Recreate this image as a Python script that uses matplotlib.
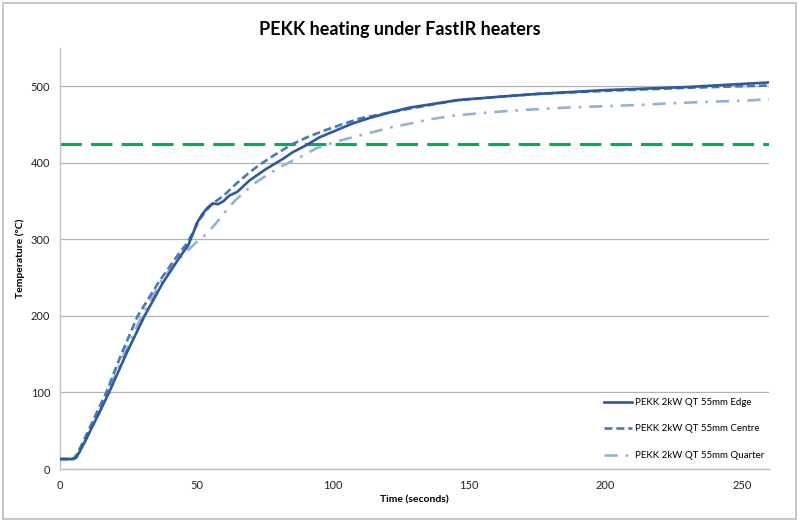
import matplotlib
matplotlib.use("Agg")
import matplotlib.pyplot as plt
from matplotlib.patches import Rectangle

plt.rcParams['font.family'] = ['Lato', 'DejaVu Sans']

# Edge (solid)
edge_t = [0, 5, 6, 8, 10, 15, 18, 24.5, 31, 37.5, 44.5, 47, 48.8, 50, 52, 54, 56, 58, 60, 62, 65,
          69.5, 75.6, 81.7, 85.4, 90.3, 95, 101, 107, 113, 120, 128, 137, 146, 160, 175, 190, 200, 215,
          230, 240, 250, 260]
edge_T = [13, 13, 15, 28, 42, 78, 100, 152, 200, 242, 280, 292, 308, 320, 332, 341, 347, 346,
          350, 357, 362, 377, 392, 405, 414, 423, 433, 442, 451, 458, 465, 472, 477, 482, 486, 490, 493,
          495, 497, 499, 501, 503, 505]

# Centre (dashed)
centre_t = [0, 4, 5, 6, 8, 10, 13, 17, 22.5, 28.5, 36, 43.3, 46.4, 49, 51, 53, 56, 58, 60, 64.7,
            69, 73, 79, 85, 91, 97.6, 104, 110, 120, 130, 146, 160, 175, 200, 230, 250, 260]
centre_T = [13, 13, 14, 18, 32, 47, 70, 100, 150, 200, 243, 280, 294, 310, 325, 335, 347, 352,
            357, 373, 386, 397, 411, 424, 434, 443, 451, 458, 465, 472, 482, 486, 490, 494, 498, 500, 501]

# Quarter (dash-dot)
quarter_t = [0, 5, 6, 8, 10, 14, 17.5, 23.5, 30, 37, 42, 46.4, 50.5, 52.5, 57, 61, 64, 68.3, 72,
             76.9, 81, 85.4, 90, 94, 99, 103.7, 109, 114.7, 121, 128, 136, 145, 155, 165, 175, 185, 200,
             215, 225, 240, 250, 260]
quarter_T = [13, 13, 15, 27, 42, 70, 100, 150, 200, 245, 268, 284, 298, 303, 320, 338, 350, 364,
             375, 386, 395, 403, 411, 419, 425, 430, 435, 440, 446, 451, 457, 462, 465, 468, 470, 472,
             474, 476, 478, 480, 481, 483]

threshold = 425
labels = ["PEKK 2kW QT 55mm Edge", "PEKK 2kW QT 55mm Centre", "PEKK 2kW QT 55mm Quarter"]
xticks = [0, 50, 100, 150, 200, 250]
yticks = [0, 100, 200, 300, 400, 500]

fig = plt.figure(figsize=(8, 5.26), dpi=100)
ax = fig.add_axes([60/800, 1-469/526, 709/800, 421/526])

ax.axhline(threshold, color='#00B050', lw=2.2, dashes=(7, 3), zorder=2)
l1, = ax.plot(edge_t, edge_T, color='#2E5A9C', lw=1.9, label=labels[0], zorder=5)
l2, = ax.plot(centre_t, centre_T, color='#4A78BE', lw=1.9, dashes=(3, 1.5), label=labels[1], zorder=4)
l3, = ax.plot(quarter_t, quarter_T, color='#93B1DA', lw=1.9, dashes=(5, 3, 1, 3), label=labels[2], zorder=3)

ax.set_xlim(0, 260)
ax.set_ylim(0, 550)
ax.set_xticks(xticks)
ax.set_yticks(yticks)
ax.grid(axis='y', color='#B3B3B3', lw=0.9)
ax.set_axisbelow(True)
for s in ['top', 'right']:
    ax.spines[s].set_visible(False)
for s in ['left', 'bottom']:
    ax.spines[s].set_color('#BFBFBF')
    ax.spines[s].set_linewidth(1.0)
ax.tick_params(length=0, labelsize=8, pad=7, colors='#222222')
ax.tick_params(axis='x', pad=8)

ax.set_xlabel("Time (seconds)", fontsize=7.5, fontweight='bold', labelpad=3)
ax.set_ylabel("Temperature (ºC)", fontsize=7.5, fontweight='bold', labelpad=4)
fig.suptitle("PEKK heating under FastIR heaters", fontsize=13, fontweight='bold', y=1-30/526, va='center')

leg = ax.legend(handles=[l1, l2, l3], loc='lower right', bbox_to_anchor=(1.0, 0.01, 0, 0),
                fontsize=7, frameon=True, facecolor='white', edgecolor='none', framealpha=1,
                fancybox=False, handlelength=2.9, handletextpad=0.25, labelspacing=1.8,
                borderpad=0.5, borderaxespad=0)
leg.set_zorder(10)

fig.patches.append(Rectangle((3/800, 1-519/526), 793/800, 516/526, transform=fig.transFigure,
                             fill=False, edgecolor='#BDBDBD', lw=1.2))

fig.savefig("out.png", dpi=100)
